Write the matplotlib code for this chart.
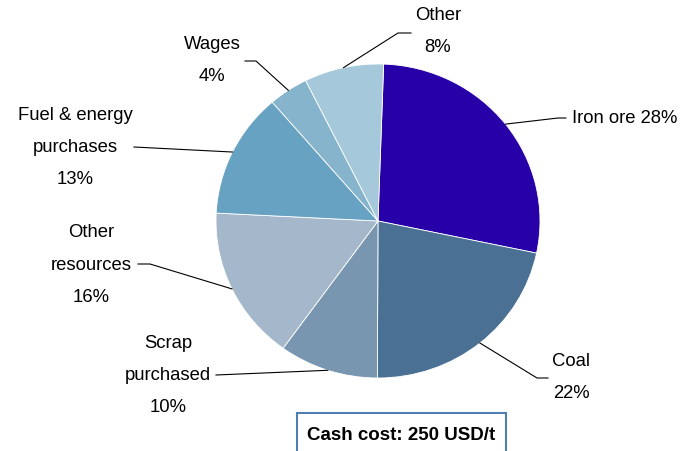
import numpy as np
import matplotlib
matplotlib.use("Agg")
import matplotlib.pyplot as plt
from matplotlib.patches import Rectangle

plt.rcParams['font.family'] = ['Liberation Sans', 'DejaVu Sans']

# Cost structure (share of cash cost, %)
categories = ["Iron ore", "Coal", "Scrap purchased", "Other resources",
              "Fuel & energy purchases", "Wages", "Other"]
shares = [28, 22, 10, 16, 13, 4, 8]
colors = ["#2800a8", "#4a7094", "#7896b0", "#a5b8cb",
          "#68a2c2", "#86b4cd", "#a6c8db"]
label_lines = [["Iron ore 28%"], ["Coal", "22%"], ["Scrap", "purchased", "10%"],
               ["Other", "resources", "16%"], ["Fuel & energy", "purchases", "13%"],
               ["Wages", "4%"], ["Other", "8%"]]
box_text = "Cash cost: 250 USD/t"

W, H = 690, 452
CX, CY, RX, RY = 378, 222, 162, 157


def px(x, y):
    # pixel position -> data coords (pie radius 1)
    return (x - CX) / RX, (CY - y) / RY


fig = plt.figure(figsize=(W / 100, H / 100), dpi=100)
ax = fig.add_axes([0, 0, 1, 1])
wedges, _ = ax.pie(shares, colors=colors, startangle=88, counterclock=False,
                   radius=1, wedgeprops=dict(edgecolor="white", linewidth=0.6))
ax.set_aspect("auto")
ax.set_xlim(px(0, 0)[0], px(W, 0)[0])
ax.set_ylim(px(0, H)[1], px(0, 0)[1])
ax.axis("off")

# leader line elbow/end points and text placement (pixels)
layout = [
    dict(elbow=(558, 119), end=(566, 119), tx=572, ty=119, ha="left"),
    dict(elbow=(537, 379), end=(548, 379), tx=571, ty=377, ha="center"),
    dict(elbow=(216, 376), end=(216, 376), tx=168, ty=375, ha="center"),
    dict(elbow=(150, 265), end=(138, 265), tx=91, ty=265, ha="center"),
    dict(elbow=(134, 148), end=(134, 148), tx=75, ty=148, ha="center"),
    dict(elbow=(256, 62), end=(245, 62), tx=212, ty=61, ha="center"),
    dict(elbow=(398, 34), end=(411, 34), tx=438, ty=32, ha="center"),
]

for w, lines, lay in zip(wedges, label_lines, layout):
    ang = np.deg2rad((w.theta1 + w.theta2) / 2)
    ax0, ay0 = np.cos(ang), np.sin(ang)
    ex, ey = px(*lay["elbow"])
    nx, ny = px(*lay["end"])
    ax.plot([ax0, ex, nx], [ay0, ey, ny], color="black", lw=0.8)
    n = len(lines)
    for i, s in enumerate(lines):
        yy = lay["ty"] + (i - (n - 1) / 2) * 32
        x, y = px(lay["tx"], yy)
        ax.text(x, y, s, ha=lay["ha"], va="center", fontsize=13.3, color="black")

# cash cost box (runs off the bottom edge)
bx0, by0 = px(297, 475)
bx1, by1 = px(506, 414)
ax.add_patch(Rectangle((bx0, by0), bx1 - bx0, by1 - by0, facecolor="white",
                       edgecolor="#4f7fae", lw=1.5, clip_on=True))
x, y = px(401, 436)
ax.text(x, y, box_text, ha="center", va="center", fontsize=13.5, fontweight="bold")

fig.savefig("out.png", dpi=100)
